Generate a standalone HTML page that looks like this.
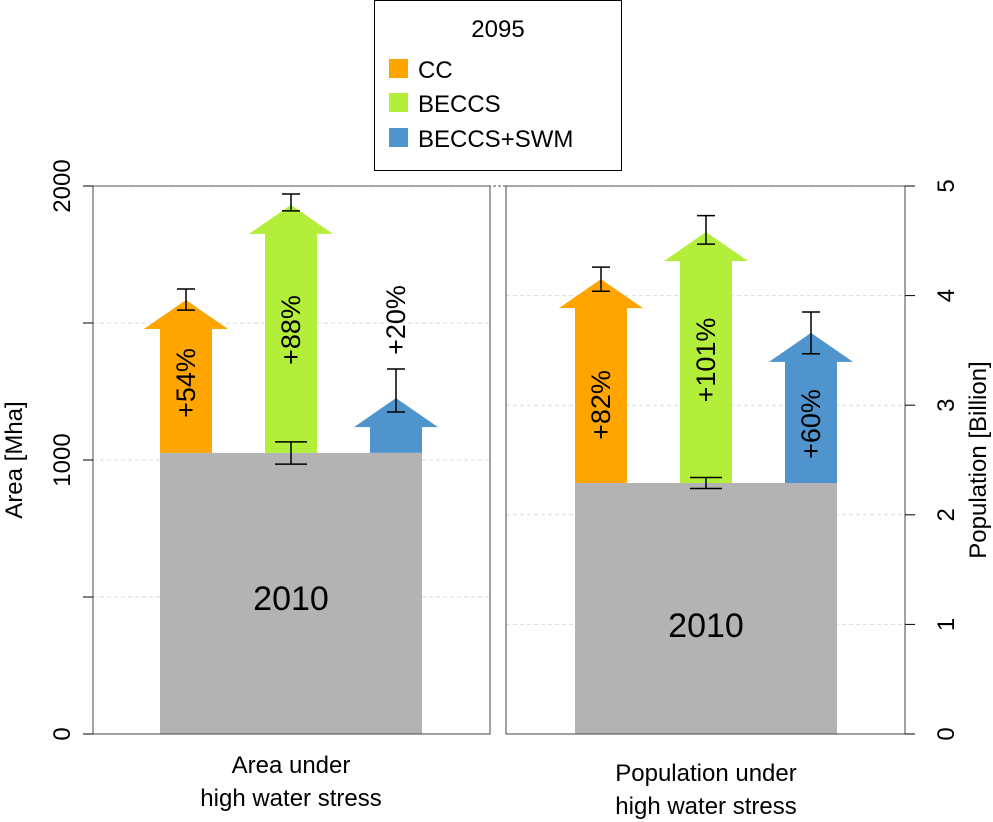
<!DOCTYPE html>
<html><head><meta charset="utf-8"><style>
body{margin:0;background:#fff}
svg{display:block;font-family:"Liberation Sans",Arial,sans-serif}
</style></head><body>
<svg id="c" width="993" height="822"></svg>
<script>
const scenarios = ["CC","BECCS","BECCS+SWM"];
const colors = ["#FFA500","#B3EE3A","#4F94CD"];
const areaBase = 1026;
const areaBaseErr = [985,1066];
const areaVals = [1584,1931,1226];
const areaErrLo = [1547,1909,1175];
const areaErrHi = [1624,1971,1332];
const areaPct = ["+54%","+88%","+20%"];
const popBase = 2.29;
const popBaseErr = [2.24,2.34];
const popVals = [4.15,4.58,3.66];
const popErrLo = [4.04,4.47,3.47];
const popErrHi = [4.26,4.73,3.85];
const popPct = ["+82%","+101%","+60%"];
const areaTicks = [0,1000,2000];
const areaMinor = [500,1500];
const popTicks = [0,1,2,3,4,5];

const NS="http://www.w3.org/2000/svg";
const svg=document.getElementById('c');
function el(tag,attrs,parent){const e=document.createElementNS(NS,tag);for(const k in attrs)e.setAttribute(k,attrs[k]);(parent||svg).appendChild(e);return e;}
const yTop=186,yBot=734;
const yA=v=>yBot-(v/2000)*(yBot-yTop);
const yP=v=>yBot-(v/5)*(yBot-yTop);

function panel(x0,x1,yf,base,baseErr,vals,lo,hi,pct,labelPos,name,baseLabelY){
  const g=el('g',{});
  
  
  const gx0=x0+67, gw=262;
  const r=el('rect',{x:gx0,y:yf(base),width:gw,height:yBot-yf(base),fill:'#b3b3b3'},g);
  
  
  const t=el('text',{x:gx0+gw/2,y:baseLabelY,'font-size':34,'text-anchor':'middle',fill:'#000'},g);
  t.textContent='2010';
  
  
  for(let i=0;i<3;i++){
    const cx=gx0+26+i*105;
    const tip=yf(vals[i]), hb=tip+29, bt=yf(base);
    const p=el('polygon',{points:`${cx-26},${bt} ${cx-26},${hb} ${cx-42},${hb} ${cx},${tip} ${cx+42},${hb} ${cx+26},${hb} ${cx+26},${bt}`,fill:colors[i]},g);
    
    
    const e1=yf(lo[i]),e2=yf(hi[i]);
    const eb=el('path',{d:`M${cx},${e1}V${e2}M${cx-9},${e1}H${cx+9}M${cx-9},${e2}H${cx+9}`,stroke:'#000','stroke-width':1.5,fill:'none'},g);
    
    
    const lt=el('text',{transform:`translate(${cx+9},${labelPos[i]}) rotate(-90)`,'font-size':27,'text-anchor':'middle',fill:'#000'},g);
    lt.textContent=pct[i];
    
    
  }
  const cx=gx0+131;
  const b1=yf(baseErr[0]),b2=yf(baseErr[1]);
  const be=el('path',{d:`M${cx},${b1}V${b2}M${cx-16},${b1}H${cx+16}M${cx-16},${b2}H${cx+16}`,stroke:'#000','stroke-width':1.5,fill:'none'},g);
  
  
}
// gridlines
areaMinor.concat([1000]).forEach(v=>{const l=el('line',{x1:93,x2:490,y1:yA(v),y2:yA(v),stroke:'#dcdcdc','stroke-dasharray':'4,3'});});
[1,2,3,4].forEach(v=>{const l=el('line',{x1:506,x2:905,y1:yP(v),y2:yP(v),stroke:'#dcdcdc','stroke-dasharray':'4,3'});});
panel(93,490,yA,areaBase,areaBaseErr,areaVals,areaErrLo,areaErrHi,areaPct,[383,330,320],'area',610);
panel(508,905,yP,popBase,popBaseErr,popVals,popErrLo,popErrHi,popPct,[405,360,424],'population',637);
// frames
[[93,490],[506,905]].forEach(([a,b])=>{const r=el('rect',{x:a,y:yTop,width:b-a,height:yBot-yTop,fill:'none',stroke:'#444','stroke-width':1});});
const tl=el('line',{x1:93,x2:905,y1:yTop,y2:yTop,stroke:'#555','stroke-dasharray':'3,2'});

// left axis
areaTicks.forEach(v=>{el('line',{x1:83,x2:93,y1:yA(v),y2:yA(v),stroke:'#000'});
  const t=el('text',{transform:`translate(70,${yA(v)}) rotate(-90)`,'font-size':24,'text-anchor':'middle'});t.textContent=v;
  });
areaMinor.forEach(v=>el('line',{x1:83,x2:93,y1:yA(v),y2:yA(v),stroke:'#000'}));
const yl=el('text',{transform:'translate(22,460) rotate(-90)','font-size':24,'text-anchor':'middle'});yl.textContent='Area [Mha]';

// right axis
popTicks.forEach(v=>{el('line',{x1:905,x2:915,y1:yP(v),y2:yP(v),stroke:'#000'});
  const t=el('text',{transform:`translate(954,${yP(v)}) rotate(-90)`,'font-size':24,'text-anchor':'middle'});t.textContent=v;
  });
const yr=el('text',{transform:'translate(986,460) rotate(-90)','font-size':24,'text-anchor':'middle'});yr.textContent='Population [Billion]';

// x labels
[[291,773,'Area under'],[291,806,'high water stress'],[706,781,'Population under'],[706,814,'high water stress']].forEach(([x,y,s])=>{
  const t=el('text',{x:x,y:y,'font-size':24,'text-anchor':'middle'});t.textContent=s;
  });
// legend
const lg=el('g',{});
el('rect',{x:374.5,y:0.5,width:247,height:170,fill:'#fff',stroke:'#000'},lg);
const lt=el('text',{x:498,y:37,'font-size':24,'text-anchor':'middle'},lg);lt.textContent='2095';

[69,103,138].forEach((y,i)=>{
  const r=el('rect',{x:389,y:y-10,width:19,height:19,fill:colors[i]},lg);
  
  const t=el('text',{x:418,y:y+9,'font-size':24},lg);t.textContent=scenarios[i];
  
});
</script>
</body></html>
